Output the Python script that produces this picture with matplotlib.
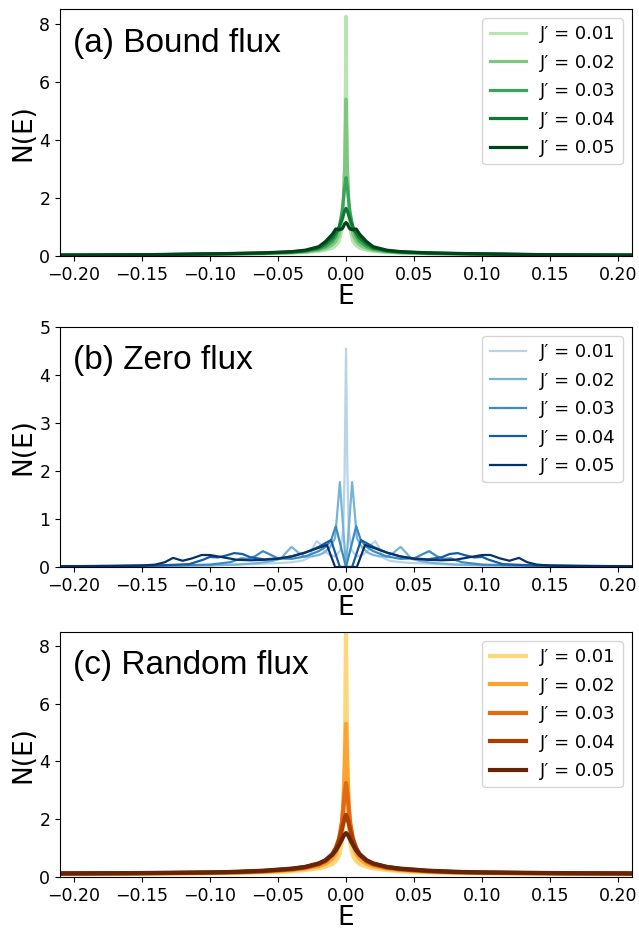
import numpy as np
import matplotlib
matplotlib.use('Agg')
import matplotlib.pyplot as plt

# legend labels
labels = ['J′ = 0.01', 'J′ = 0.02', 'J′ = 0.03', 'J′ = 0.04', 'J′ = 0.05']

# positive half of the energy grid for panels (a) and (c), curves are symmetric in E
E_half = [0, 0.001, 0.002, 0.003, 0.005, 0.0075, 0.01, 0.015, 0.02, 0.03, 0.04,
          0.06, 0.08, 0.1, 0.13, 0.16, 0.21]

# (a) bound flux
bound_01 = [8.25, 3.0, 1.4, 0.9, 0.5, 0.35, 0.27, 0.2, 0.16, 0.12, 0.1, 0.078, 0.065, 0.055, 0.045, 0.035, 0.028]
bound_02 = [5.4, 3.1, 1.9, 1.3, 0.75, 0.5, 0.38, 0.26, 0.2, 0.14, 0.11, 0.085, 0.07, 0.06, 0.047, 0.037, 0.03]
bound_03 = [2.7, 2.35, 1.9, 1.5, 1.0, 0.68, 0.5, 0.33, 0.24, 0.16, 0.125, 0.095, 0.08, 0.067, 0.05, 0.038, 0.03]
bound_04 = [1.64, 1.55, 1.4, 1.25, 1.0, 0.8, 0.62, 0.42, 0.28, 0.18, 0.14, 0.1, 0.085, 0.07, 0.052, 0.04, 0.03]
bound_05 = [1.15, 1.1, 1.0, 0.93, 0.9, 0.93, 0.75, 0.5, 0.32, 0.2, 0.15, 0.11, 0.09, 0.075, 0.055, 0.04, 0.03]

# (b) zero flux, each curve on its own grid (positive half)
zero_E01 = [0, 0.001, 0.002, 0.004, 0.008, 0.012, 0.016, 0.019, 0.0215, 0.024, 0.027, 0.032, 0.04, 0.05, 0.07, 0.1, 0.14, 0.21]
zero_01 = [4.55, 2.0, 0.8, 0.35, 0.22, 0.25, 0.33, 0.48, 0.54, 0.42, 0.2, 0.13, 0.1, 0.08, 0.06, 0.04, 0.03, 0.02]
zero_E02 = [0, 0.0045, 0.008, 0.012, 0.016, 0.02, 0.025, 0.03, 0.035, 0.04, 0.044, 0.048, 0.055, 0.065, 0.08, 0.1, 0.15, 0.21]
zero_02 = [0, 1.77, 0.6, 0.4, 0.3, 0.25, 0.22, 0.22, 0.3, 0.42, 0.3, 0.17, 0.12, 0.08, 0.05, 0.035, 0.02, 0.015]
zero_E03 = [0, 0.0075, 0.011, 0.015, 0.02, 0.03, 0.04, 0.05, 0.055, 0.061, 0.067, 0.072, 0.077, 0.085, 0.1, 0.13, 0.21]
zero_03 = [0, 0.85, 0.55, 0.42, 0.33, 0.22, 0.17, 0.18, 0.25, 0.33, 0.22, 0.17, 0.18, 0.1, 0.05, 0.03, 0.015]
zero_E04 = [0, 0.0045, 0.011, 0.015, 0.02, 0.03, 0.04, 0.05, 0.06, 0.07, 0.076, 0.082, 0.088, 0.094, 0.1, 0.105, 0.115, 0.14, 0.21]
zero_04 = [0, 0, 0.56, 0.5, 0.42, 0.3, 0.22, 0.18, 0.16, 0.2, 0.27, 0.29, 0.24, 0.2, 0.21, 0.15, 0.06, 0.03, 0.015]
zero_E05 = [0, 0.008, 0.014, 0.02, 0.03, 0.04, 0.05, 0.06, 0.07, 0.08, 0.09, 0.1, 0.106, 0.113, 0.12, 0.127, 0.133, 0.14, 0.15, 0.17, 0.21]
zero_05 = [0, 0, 0.46, 0.4, 0.3, 0.22, 0.17, 0.15, 0.14, 0.15, 0.2, 0.25, 0.25, 0.18, 0.13, 0.19, 0.1, 0.05, 0.03, 0.02, 0.015]

# (c) random flux
rand_01 = [8.44, 3.5, 1.8, 1.2, 0.75, 0.55, 0.45, 0.36, 0.3, 0.24, 0.2, 0.16, 0.14, 0.13, 0.12, 0.11, 0.1]
rand_02 = [5.3, 3.8, 2.5, 1.8, 1.15, 0.8, 0.63, 0.46, 0.38, 0.29, 0.24, 0.18, 0.155, 0.14, 0.13, 0.12, 0.11]
rand_03 = [3.25, 2.9, 2.35, 1.9, 1.35, 0.97, 0.76, 0.54, 0.43, 0.32, 0.26, 0.2, 0.165, 0.15, 0.135, 0.125, 0.115]
rand_04 = [2.15, 2.05, 1.85, 1.65, 1.3, 1.0, 0.8, 0.58, 0.46, 0.34, 0.28, 0.21, 0.175, 0.155, 0.14, 0.13, 0.12]
rand_05 = [1.52, 1.48, 1.4, 1.3, 1.12, 0.92, 0.77, 0.58, 0.47, 0.35, 0.29, 0.22, 0.18, 0.16, 0.145, 0.135, 0.125]


def mirror(x, y):
    x = np.asarray(x, float)
    y = np.asarray(y, float)
    return np.concatenate([-x[:0:-1], x]), np.concatenate([y[:0:-1], y])


def panel(ax, curves, cmap, lw, title, ymax, yticks):
    cols = cmap(np.linspace(0.3, 1.0, 5))
    for (x, y), c, lab in zip(curves, cols, labels):
        xx, yy = mirror(x, y)
        ax.plot(xx, yy, color=c, lw=lw, label=lab)
    ax.set_xlim(-0.21, 0.21)
    ax.set_ylim(0, ymax)
    ax.set_yticks(yticks)
    ax.set_xticks([-0.2, -0.15, -0.1, -0.05, 0, 0.05, 0.1, 0.15, 0.2])
    ax.tick_params(labelsize=12.5)
    ax.set_xlabel('E', fontsize=19, labelpad=0)
    ax.set_ylabel('N(E)', fontsize=19, labelpad=2)
    ax.text(0.022, 0.925, title, transform=ax.transAxes, va='top', ha='left',
            fontsize=24, family='Liberation Sans')
    ax.legend(loc='upper right', fontsize=13, labelspacing=0.58)


fig = plt.figure(figsize=(6.39, 9.31), dpi=100)
left, width = 60 / 639, 572 / 639
ax1 = fig.add_axes([left, 1 - 256 / 931, width, 247 / 931])
ax2 = fig.add_axes([left, 1 - 567 / 931, width, 240 / 931])
ax3 = fig.add_axes([left, 1 - 877 / 931, width, 245 / 931])

panel(ax1, [(E_half, bound_01), (E_half, bound_02), (E_half, bound_03), (E_half, bound_04), (E_half, bound_05)],
      plt.cm.Greens, 2.3, '(a) Bound flux', 8.5, [0, 2, 4, 6, 8])
panel(ax2, [(zero_E01, zero_01), (zero_E02, zero_02), (zero_E03, zero_03), (zero_E04, zero_04), (zero_E05, zero_05)],
      plt.cm.Blues, 1.6, '(b) Zero flux', 5, [0, 1, 2, 3, 4, 5])
panel(ax3, [(E_half, rand_01), (E_half, rand_02), (E_half, rand_03), (E_half, rand_04), (E_half, rand_05)],
      plt.cm.YlOrBr, 3.0, '(c) Random flux', 8.48, [0, 2, 4, 6, 8])

fig.savefig('out.png', dpi=100)
